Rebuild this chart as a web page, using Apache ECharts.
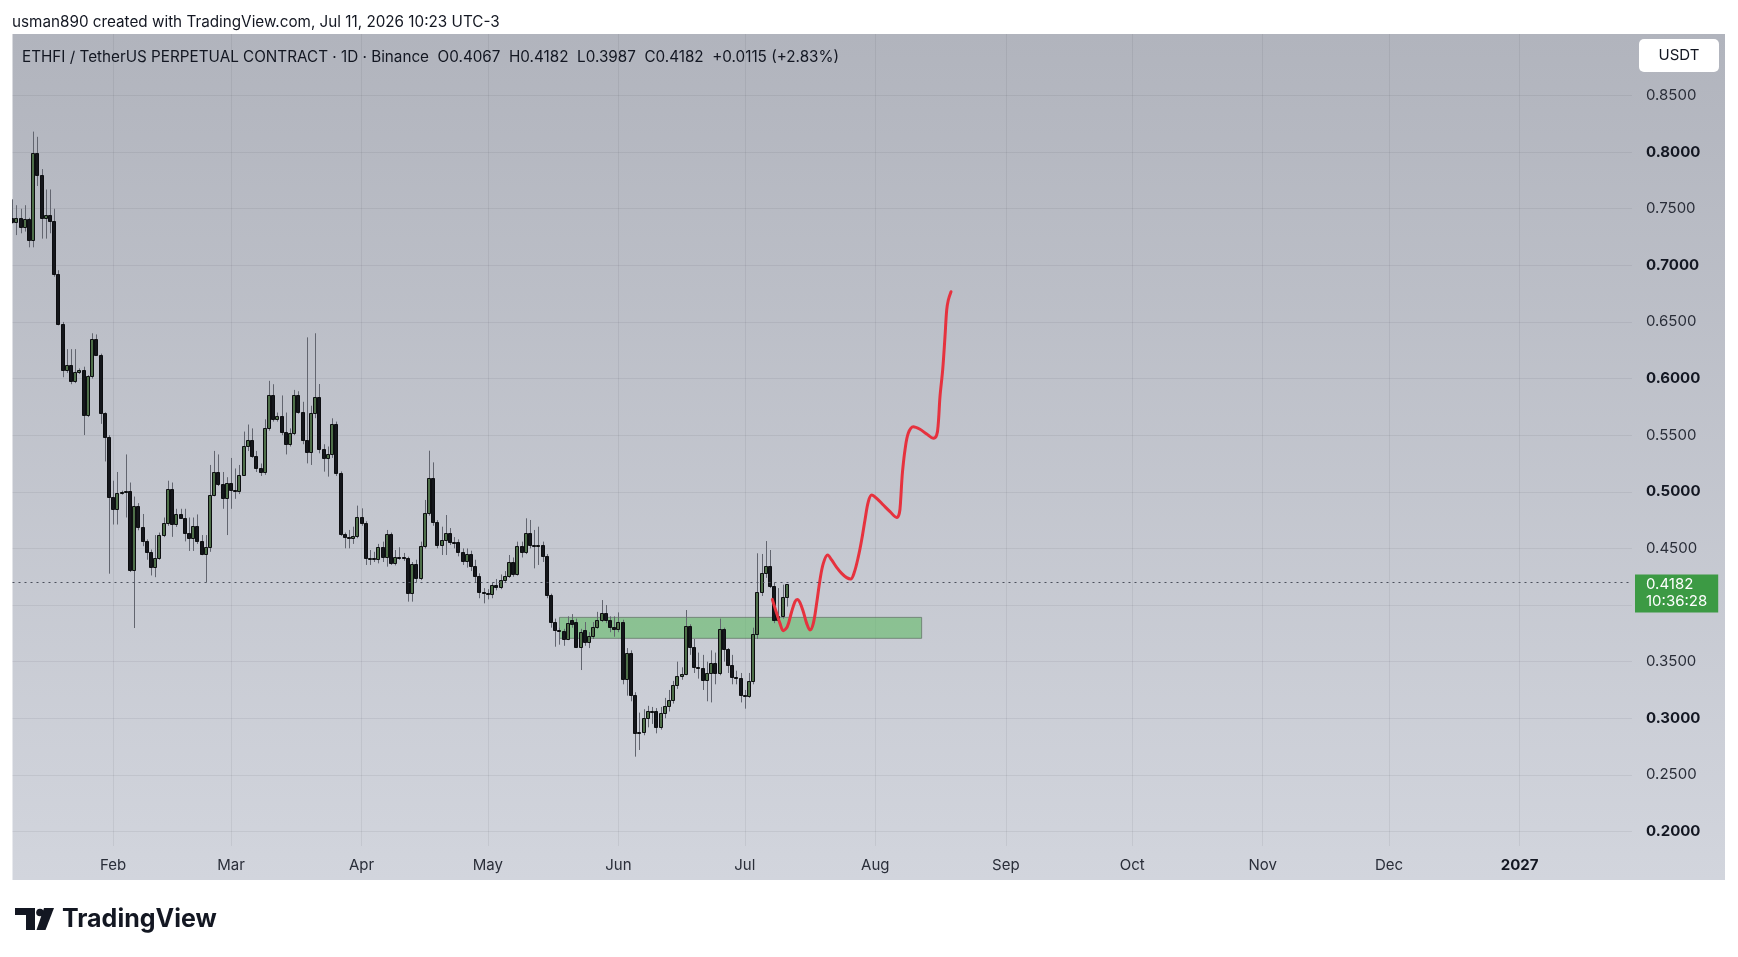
<!DOCTYPE html>
<html>
<head>
<meta charset="utf-8">
<script src="https://cdn.jsdelivr.net/npm/echarts@6/dist/echarts.min.js"></script>
<style>
html,body{margin:0;padding:0;background:#ffffff;}
#chart{width:1738px;height:957px;}
</style>
</head>
<body>
<div id="chart"></div>
<script>
// ---------------- DATA ----------------
// daily candles: [date, open, high, low, close]
const candles = [
['2026-01-08',0.7420,0.7583,0.7370,0.7385],
['2026-01-09',0.7385,0.7531,0.7267,0.7416],
['2026-01-10',0.7416,0.7500,0.7283,0.7339],
['2026-01-11',0.7339,0.7531,0.7298,0.7407],
['2026-01-12',0.7407,0.7420,0.7159,0.7221],
['2026-01-13',0.7221,0.8181,0.7159,0.7989],
['2026-01-14',0.7989,0.8135,0.7701,0.7800],
['2026-01-15',0.7800,0.7850,0.7236,0.7422],
['2026-01-16',0.7422,0.7670,0.7236,0.7447],
['2026-01-17',0.7447,0.7670,0.7283,0.7391],
['2026-01-18',0.7391,0.7500,0.6900,0.6926],
['2026-01-19',0.6926,0.6957,0.6470,0.6486],
['2026-01-20',0.6486,0.6500,0.6012,0.6074],
['2026-01-21',0.6074,0.6260,0.6050,0.6120],
['2026-01-22',0.6120,0.6260,0.5950,0.5981],
['2026-01-23',0.5981,0.6260,0.5960,0.6058],
['2026-01-24',0.6058,0.6090,0.6040,0.6074],
['2026-01-25',0.6074,0.6105,0.5501,0.5681],
['2026-01-26',0.5681,0.6030,0.5660,0.6021],
['2026-01-27',0.6021,0.6400,0.6000,0.6347],
['2026-01-28',0.6347,0.6390,0.6200,0.6207],
['2026-01-29',0.6207,0.6220,0.5600,0.5693],
['2026-01-30',0.5693,0.5702,0.5268,0.5485],
['2026-01-31',0.5485,0.5500,0.4277,0.4958],
['2026-02-01',0.4958,0.5098,0.4711,0.4844],
['2026-02-02',0.4844,0.5175,0.4711,0.4989],
['2026-02-03',0.4989,0.5010,0.4975,0.4999],
['2026-02-04',0.4999,0.5330,0.4773,0.5011],
['2026-02-05',0.5011,0.5082,0.4292,0.4308],
['2026-02-06',0.4308,0.4958,0.3797,0.4875],
['2026-02-07',0.4875,0.4900,0.4660,0.4686],
['2026-02-08',0.4686,0.4804,0.4520,0.4562],
['2026-02-09',0.4562,0.4580,0.4400,0.4469],
['2026-02-10',0.4469,0.4490,0.4261,0.4338],
['2026-02-11',0.4338,0.4618,0.4246,0.4416],
['2026-02-12',0.4416,0.4640,0.4400,0.4618],
['2026-02-13',0.4618,0.4773,0.4600,0.4726],
['2026-02-14',0.4726,0.5098,0.4700,0.5027],
['2026-02-15',0.5027,0.5082,0.4602,0.4717],
['2026-02-16',0.4717,0.4850,0.4690,0.4804],
['2026-02-17',0.4804,0.4850,0.4760,0.4773],
['2026-02-18',0.4773,0.4850,0.4562,0.4633],
['2026-02-19',0.4633,0.4773,0.4478,0.4593],
['2026-02-20',0.4593,0.4773,0.4478,0.4701],
['2026-02-21',0.4701,0.4800,0.4540,0.4562],
['2026-02-22',0.4562,0.4618,0.4440,0.4453],
['2026-02-23',0.4453,0.4618,0.4199,0.4515],
['2026-02-24',0.4515,0.5237,0.4470,0.4968],
['2026-02-25',0.4968,0.5361,0.4960,0.5175],
['2026-02-26',0.5175,0.5330,0.5051,0.5067],
['2026-02-27',0.5067,0.5175,0.4850,0.4943],
['2026-02-28',0.4943,0.5129,0.4618,0.5082],
['2026-03-01',0.5082,0.5299,0.4850,0.5020],
['2026-03-02',0.5020,0.5206,0.4938,0.5011],
['2026-03-03',0.5011,0.5237,0.4980,0.5151],
['2026-03-04',0.5151,0.5532,0.5140,0.5408],
['2026-03-05',0.5408,0.5594,0.5360,0.5460],
['2026-03-06',0.5460,0.5560,0.5300,0.5315],
['2026-03-07',0.5315,0.5361,0.5175,0.5206],
['2026-03-08',0.5206,0.5250,0.5140,0.5175],
['2026-03-09',0.5175,0.5640,0.5150,0.5563],
['2026-03-10',0.5563,0.5980,0.5540,0.5851],
['2026-03-11',0.5851,0.5950,0.5620,0.5640],
['2026-03-12',0.5640,0.5700,0.5620,0.5671],
['2026-03-13',0.5671,0.5851,0.5500,0.5532],
['2026-03-14',0.5532,0.5700,0.5330,0.5423],
['2026-03-15',0.5423,0.5560,0.5400,0.5522],
['2026-03-16',0.5522,0.5900,0.5500,0.5851],
['2026-03-17',0.5851,0.5888,0.5690,0.5708],
['2026-03-18',0.5708,0.5795,0.5420,0.5457],
['2026-03-19',0.5457,0.6364,0.5251,0.5354],
['2026-03-20',0.5354,0.5760,0.5237,0.5693],
['2026-03-21',0.5693,0.6400,0.5650,0.5834],
['2026-03-22',0.5834,0.5952,0.5340,0.5378],
['2026-03-23',0.5378,0.5420,0.5178,0.5296],
['2026-03-24',0.5296,0.5400,0.5134,0.5334],
['2026-03-25',0.5334,0.5649,0.5300,0.5596],
['2026-03-26',0.5596,0.5620,0.5140,0.5163],
['2026-03-27',0.5163,0.5180,0.4610,0.4624],
['2026-03-28',0.4624,0.4640,0.4501,0.4604],
['2026-03-29',0.4604,0.4663,0.4501,0.4589],
['2026-03-30',0.4589,0.4692,0.4540,0.4610],
['2026-03-31',0.4610,0.4878,0.4590,0.4780],
['2026-04-01',0.4780,0.4854,0.4700,0.4727],
['2026-04-02',0.4727,0.4740,0.4354,0.4412],
['2026-04-03',0.4412,0.4486,0.4354,0.4415],
['2026-04-04',0.4415,0.4470,0.4380,0.4404],
['2026-04-05',0.4404,0.4540,0.4368,0.4510],
['2026-04-06',0.4510,0.4560,0.4380,0.4420],
['2026-04-07',0.4420,0.4663,0.4339,0.4624],
['2026-04-08',0.4624,0.4640,0.4354,0.4368],
['2026-04-09',0.4368,0.4486,0.4350,0.4427],
['2026-04-10',0.4427,0.4510,0.4400,0.4420],
['2026-04-11',0.4420,0.4460,0.4390,0.4412],
['2026-04-12',0.4412,0.4427,0.4030,0.4103],
['2026-04-13',0.4103,0.4380,0.4030,0.4359],
['2026-04-14',0.4359,0.4400,0.4200,0.4236],
['2026-04-15',0.4236,0.4560,0.4220,0.4521],
['2026-04-16',0.4521,0.4928,0.4500,0.4810],
['2026-04-17',0.4810,0.5363,0.4790,0.5119],
['2026-04-18',0.5119,0.5260,0.4700,0.4736],
['2026-04-19',0.4736,0.4750,0.4501,0.4530],
['2026-04-20',0.4530,0.4692,0.4442,0.4574],
['2026-04-21',0.4574,0.4795,0.4442,0.4633],
['2026-04-22',0.4633,0.4680,0.4530,0.4560],
['2026-04-23',0.4560,0.4600,0.4500,0.4555],
['2026-04-24',0.4555,0.4580,0.4430,0.4471],
['2026-04-25',0.4471,0.4500,0.4354,0.4392],
['2026-04-26',0.4392,0.4500,0.4330,0.4451],
['2026-04-27',0.4451,0.4480,0.4300,0.4348],
['2026-04-28',0.4348,0.4400,0.4200,0.4256],
['2026-04-29',0.4256,0.4280,0.4060,0.4118],
['2026-04-30',0.4118,0.4150,0.4015,0.4110],
['2026-05-01',0.4110,0.4140,0.4050,0.4100],
['2026-05-02',0.4100,0.4200,0.4060,0.4177],
['2026-05-03',0.4177,0.4230,0.4130,0.4162],
['2026-05-04',0.4162,0.4270,0.4140,0.4221],
['2026-05-05',0.4221,0.4300,0.4200,0.4256],
['2026-05-06',0.4256,0.4442,0.4240,0.4377],
['2026-05-07',0.4377,0.4420,0.4250,0.4274],
['2026-05-08',0.4274,0.4560,0.4260,0.4521],
['2026-05-09',0.4521,0.4560,0.4420,0.4471],
['2026-05-10',0.4471,0.4766,0.4450,0.4633],
['2026-05-11',0.4633,0.4751,0.4500,0.4530],
['2026-05-12',0.4530,0.4663,0.4324,0.4527],
['2026-05-13',0.4527,0.4692,0.4354,0.4530],
['2026-05-14',0.4530,0.4560,0.4380,0.4433],
['2026-05-15',0.4433,0.4450,0.4060,0.4089],
['2026-05-16',0.4089,0.4100,0.3800,0.3853],
['2026-05-17',0.3853,0.3880,0.3632,0.3779],
['2026-05-18',0.3779,0.3800,0.3650,0.3767],
['2026-05-19',0.3767,0.3790,0.3640,0.3704],
['2026-05-20',0.3704,0.3900,0.3690,0.3842],
['2026-05-21',0.3867,0.3920,0.3800,0.3836],
['2026-05-22',0.3853,0.3880,0.3620,0.3632],
['2026-05-23',0.3632,0.3790,0.3426,0.3765],
['2026-05-24',0.3779,0.3850,0.3640,0.3676],
['2026-05-25',0.3676,0.3760,0.3620,0.3727],
['2026-05-26',0.3727,0.3850,0.3700,0.3809],
['2026-05-27',0.3809,0.3940,0.3790,0.3867],
['2026-05-28',0.3867,0.4044,0.3850,0.3932],
['2026-05-29',0.3932,0.4000,0.3840,0.3867],
['2026-05-30',0.3867,0.3900,0.3760,0.3809],
['2026-05-31',0.3809,0.3900,0.3720,0.3790],
['2026-06-01',0.3790,0.3935,0.3760,0.3853],
['2026-06-02',0.3853,0.3870,0.3300,0.3344],
['2026-06-03',0.3344,0.3620,0.3200,0.3573],
['2026-06-04',0.3573,0.3600,0.3150,0.3206],
['2026-06-05',0.3206,0.3230,0.2661,0.2867],
['2026-06-06',0.2867,0.3050,0.2720,0.2880],
['2026-06-07',0.2880,0.3080,0.2850,0.2999],
['2026-06-08',0.2999,0.3110,0.2920,0.3064],
['2026-06-09',0.3064,0.3100,0.2950,0.3060],
['2026-06-10',0.3060,0.3090,0.2867,0.2920],
['2026-06-11',0.2920,0.3100,0.2900,0.3044],
['2026-06-12',0.3044,0.3180,0.3000,0.3108],
['2026-06-13',0.3108,0.3250,0.3060,0.3161],
['2026-06-14',0.3161,0.3330,0.3130,0.3294],
['2026-06-15',0.3294,0.3500,0.3260,0.3376],
['2026-06-16',0.3376,0.3450,0.3340,0.3395],
['2026-06-17',0.3395,0.3956,0.3380,0.3818],
['2026-06-18',0.3818,0.3830,0.3560,0.3632],
['2026-06-19',0.3632,0.3700,0.3400,0.3456],
['2026-06-20',0.3456,0.3580,0.3350,0.3445],
['2026-06-21',0.3445,0.3560,0.3250,0.3338],
['2026-06-22',0.3338,0.3500,0.3150,0.3403],
['2026-06-23',0.3403,0.3600,0.3140,0.3491],
['2026-06-24',0.3491,0.3580,0.3300,0.3403],
['2026-06-25',0.3403,0.3880,0.3380,0.3785],
['2026-06-26',0.3785,0.3800,0.3500,0.3609],
['2026-06-27',0.3609,0.3620,0.3400,0.3470],
['2026-06-28',0.3470,0.3560,0.3300,0.3367],
['2026-06-29',0.3367,0.3420,0.3300,0.3352],
['2026-06-30',0.3352,0.3400,0.3140,0.3206],
['2026-07-01',0.3206,0.3250,0.3085,0.3195],
['2026-07-02',0.3197,0.3400,0.3180,0.3329],
['2026-07-03',0.3329,0.3800,0.3300,0.3744],
['2026-07-04',0.3744,0.4457,0.3700,0.4118],
['2026-07-05',0.4118,0.4451,0.4080,0.4280],
['2026-07-06',0.4280,0.4565,0.4240,0.4345],
['2026-07-07',0.4345,0.4486,0.4150,0.4168],
['2026-07-08',0.4168,0.4200,0.3840,0.3868],
['2026-07-09',0.3868,0.4150,0.3850,0.3903],
['2026-07-10',0.3903,0.4180,0.3880,0.4068],
['2026-07-11',0.4067,0.4182,0.3987,0.4182]
];

// hand-drawn projection path: [datetime, price]
const projection = [
['2026-07-07 13:00',0.4050],['2026-07-08 13:40',0.3927],['2026-07-09 08:40',0.3838],
['2026-07-10 03:50',0.3774],['2026-07-11 02:40',0.3809],['2026-07-12 03:10',0.3941],
['2026-07-12 22:20',0.4030],['2026-07-13 11:30',0.4050],['2026-07-14 02:40',0.4021],
['2026-07-14 21:40',0.3941],['2026-07-15 16:50',0.3838],['2026-07-16 11:50',0.3779],
['2026-07-17 06:40',0.3838],['2026-07-18 01:40',0.4015],['2026-07-18 20:40',0.4221],
['2026-07-19 15:40',0.4368],['2026-07-20 16:20',0.4442],['2026-07-21 15:10',0.4398],
['2026-07-22 19:40',0.4333],['2026-07-24 00:10',0.4280],['2026-07-25 04:50',0.4242],
['2026-07-26 03:40',0.4230],['2026-07-26 22:30',0.4280],['2026-07-27 23:20',0.4427],
['2026-07-28 18:10',0.4574],['2026-07-29 13:10',0.4751],['2026-07-30 08:10',0.4913],
['2026-07-31 03:10',0.4972],['2026-08-01 07:40',0.4942],['2026-08-02 21:40',0.4883],
['2026-08-04 11:50',0.4825],['2026-08-06 01:40',0.4774],['2026-08-06 16:50',0.4810],
['2026-08-07 00:30',0.4928],['2026-08-07 06:10',0.5075],['2026-08-07 12:00',0.5193],
['2026-08-08 01:10',0.5370],['2026-08-08 19:50',0.5517],['2026-08-10 00:30',0.5575],
['2026-08-11 14:40',0.5552],['2026-08-13 04:50',0.5510],['2026-08-14 18:30',0.5473],
['2026-08-15 13:50',0.5502],['2026-08-15 23:00',0.5605],['2026-08-16 08:40',0.5840],
['2026-08-17 00:00',0.6076],['2026-08-17 13:10',0.6370],['2026-08-17 23:00',0.6606],
['2026-08-18 08:10',0.6694],['2026-08-18 23:30',0.6767]
];

// support zone
const zoneStart = '2026-05-18';
const zoneEnd = '2026-08-12';
const zoneTop = 0.3891;
const zoneBottom = 0.3706;

// last price
const lastPrice = 0.4182;
const countdown = '10:36:28';

// axes
const xRange = ['2026-01-08 02:24', '2027-01-27 16:48'];
const yRange = [0.1872, 0.9043];
const priceTicks = [0.20,0.25,0.30,0.35,0.40,0.45,0.50,0.55,0.60,0.65,0.70,0.75,0.80,0.85];
const priceLabelTicks = [0.20,0.25,0.30,0.35,0.45,0.50,0.55,0.60,0.65,0.70,0.75,0.80,0.85];
const boldPriceTicks = [0.20,0.30,0.50,0.60,0.70,0.80];
const monthTicks = ['2026-02-01','2026-03-01','2026-04-01','2026-05-01','2026-06-01','2026-07-01',
                    '2026-08-01','2026-09-01','2026-10-01','2026-11-01','2026-12-01','2027-01-01'];
const monthLabels = ['Feb','Mar','Apr','May','Jun','Jul','Aug','Sep','Oct','Nov','Dec','2027'];
const boldMonthLabels = ['2027'];

const headerText = 'ETHFI / TetherUS PERPETUAL CONTRACT · 1D · Binance  O0.4067  H0.4182  L0.3987  C0.4182  +0.0115 (+2.83%)';
const creditText = 'usman890 created with TradingView.com, Jul 11, 2026 10:23 UTC-3';

// ---------------- helpers ----------------
function ts(s) {
  const parts = s.split(' ');
  const d = parts[0].split('-').map(Number);
  let h = 0, mi = 0;
  if (parts[1]) { const t = parts[1].split(':').map(Number); h = t[0]; mi = t[1]; }
  return Date.UTC(d[0], d[1] - 1, d[2], h, mi);
}
const monthTickTs = monthTicks.map(ts);
function labelFor(v) {
  for (let i = 0; i < monthTickTs.length; i++) {
    if (Math.abs(monthTickTs[i] - v) < 3600000) return monthLabels[i];
  }
  return '';
}

const FONT = 'Inter, "Noto Sans", "DejaVu Sans", sans-serif';
const TEXT = '#131722';
const GRID = 'rgba(42,46,57,0.075)';
const UP_FILL = '#4e6f49';
const DOWN_FILL = '#14161b';
const BORDER = '#0d0e11';
const WICK = '#62656f';

const chart = echarts.init(document.getElementById('chart'), null, {renderer: 'canvas'});

const option = {
  animation: false,
  backgroundColor: '#ffffff',
  grid: { left: 12.5, right: 106, top: 34, bottom: 111, containLabel: false },
  xAxis: {
    type: 'value',
    min: ts(xRange[0]),
    max: ts(xRange[1]),
    axisLine: { show: false },
    axisTick: { show: false, customValues: monthTickTs },
    axisLabel: {
      customValues: monthTickTs,
      margin: 12,
      fontFamily: FONT,
      fontSize: 15,
      color: TEXT,
      formatter: function (v) {
        const lab = labelFor(v);
        return boldMonthLabels.indexOf(lab) >= 0 ? '{b|' + lab + '}' : '{n|' + lab + '}';
      },
      rich: {
        n: { fontFamily: FONT, fontSize: 15, color: '#2a2e39' },
        b: { fontFamily: FONT, fontSize: 15, color: TEXT, fontWeight: 'bold' }
      }
    },
    splitLine: { show: true, lineStyle: { color: GRID, width: 1 } }
  },
  yAxis: {
    type: 'value',
    position: 'right',
    min: yRange[0],
    max: yRange[1],
    axisLine: { show: false },
    axisTick: { show: false, customValues: priceTicks },
    axisLabel: {
      customValues: priceLabelTicks,
      margin: 14,
      align: 'left',
      fontFamily: FONT,
      fontSize: 15,
      color: TEXT,
      formatter: function (v) {
        const isBold = boldPriceTicks.some(b => Math.abs(b - v) < 1e-6);
        const s = Number(v).toFixed(4);
        return isBold ? '{b|' + s + '}' : '{n|' + s + '}';
      },
      rich: {
        n: { fontFamily: FONT, fontSize: 15, color: '#2a2e39' },
        b: { fontFamily: FONT, fontSize: 15, color: TEXT, fontWeight: 'bold' }
      }
    },
    splitLine: { show: true, lineStyle: { color: GRID, width: 1 } }
  },
  series: [
    {
      name: 'zone',
      type: 'line',
      data: [],
      z: 1,
      silent: true,
      markArea: {
        silent: true,
        itemStyle: { color: 'rgba(102,187,106,0.62)', borderColor: 'rgba(90,110,95,0.7)', borderWidth: 1 },
        data: [[ { xAxis: ts(zoneStart), yAxis: zoneTop }, { xAxis: ts(zoneEnd), yAxis: zoneBottom } ]]
      }
    },
    {
      name: 'ETHFIUSDT.P',
      type: 'custom',
      z: 2,
      clip: true,
      encode: { x: 0, y: [1, 2, 3, 4] },
      data: candles.map(c => [ts(c[0]), c[1], c[2], c[3], c[4]]),
      renderItem: function (params, api) {
        const t = api.value(0);
        const o = api.value(1), h = api.value(2), l = api.value(3), c = api.value(4);
        const pH = api.coord([t, h]);
        const pL = api.coord([t, l]);
        const pO = api.coord([t, o]);
        const pC = api.coord([t, c]);
        const n = Math.round(pH[0]);
        const xw = n + 0.5;
        const top = Math.round(Math.min(pO[1], pC[1])) + 0.5;
        const bot = Math.round(Math.max(pO[1], pC[1])) + 0.5;
        const up = c >= o;
        return {
          type: 'group',
          children: [
            { type: 'line', shape: { x1: xw, y1: pH[1], x2: xw, y2: pL[1] }, style: { stroke: WICK, lineWidth: 1 } },
            { type: 'rect', shape: { x: n - 1.5, y: top, width: 3, height: Math.max(bot - top, 1) },
              style: { fill: up ? UP_FILL : DOWN_FILL, stroke: BORDER, lineWidth: 1 } }
          ]
        };
      },
      markLine: {
        silent: true,
        symbol: ['none', 'none'],
        lineStyle: { color: '#4a4e5a', type: [2, 4], width: 1 },
        label: {
          show: true,
          position: 'end',
          distance: 3,
          formatter: lastPrice.toFixed(4) + '\n' + countdown,
          backgroundColor: '#3c9a44',
          color: '#ffffff',
          fontFamily: FONT,
          fontSize: 15,
          lineHeight: 17,
          padding: [2, 11, 2, 11],
          align: 'left',
          verticalAlign: 'top',
          offset: [0, -8]
        },
        data: [{ yAxis: lastPrice }]
      }
    },
    {
      name: 'projection',
      type: 'line',
      z: 3,
      smooth: 0.35,
      symbol: 'none',
      silent: true,
      lineStyle: { color: '#e6323e', width: 3, cap: 'round', join: 'round' },
      data: projection.map(p => [ts(p[0]), p[1]])
    }
  ],
  graphic: [
    {
      type: 'rect', z: -100, silent: true,
      shape: { x: 12.5, y: 34, width: 1712.5, height: 846 },
      style: {
        fill: new echarts.graphic.LinearGradient(0, 0, 0, 1, [
          { offset: 0, color: '#b1b4bd' },
          { offset: 1, color: '#d2d5dd' }
        ])
      }
    },
    {
      type: 'text', z: 100, silent: true, left: 12, top: 15,
      style: { text: creditText, font: '15.25px ' + FONT, fill: TEXT }
    },
    {
      type: 'text', z: 100, silent: true, left: 22, top: 50,
      style: { text: headerText, font: '15.25px ' + FONT, fill: TEXT }
    },
    {
      type: 'rect', z: 100, silent: true,
      shape: { x: 1639, y: 39, width: 80, height: 33, r: 5 },
      style: { fill: '#ffffff' }
    },
    {
      type: 'text', z: 101, silent: true,
      style: { text: 'USDT', x: 1679, y: 55.5, align: 'center', verticalAlign: 'middle', font: '15px ' + FONT, fill: TEXT }
    },
    { type: 'rect', z: 100, silent: true, shape: { x: 15, y: 908, width: 20, height: 7 }, style: { fill: TEXT } },
    { type: 'rect', z: 100, silent: true, shape: { x: 26, y: 908, width: 9, height: 22 }, style: { fill: TEXT } },
    { type: 'circle', z: 100, silent: true, shape: { cx: 40, cy: 912.5, r: 3.8 }, style: { fill: TEXT } },
    { type: 'polygon', z: 100, silent: true, shape: { points: [[44, 908], [54, 908], [45.5, 930], [36.5, 930]] }, style: { fill: TEXT } },
    {
      type: 'text', z: 100, silent: true,
      style: { text: 'TradingView', x: 62, y: 919, verticalAlign: 'middle', font: 'bold 25px ' + FONT, fill: TEXT }
    }
  ]
};

chart.setOption(option);
</script>
</body>
</html>
